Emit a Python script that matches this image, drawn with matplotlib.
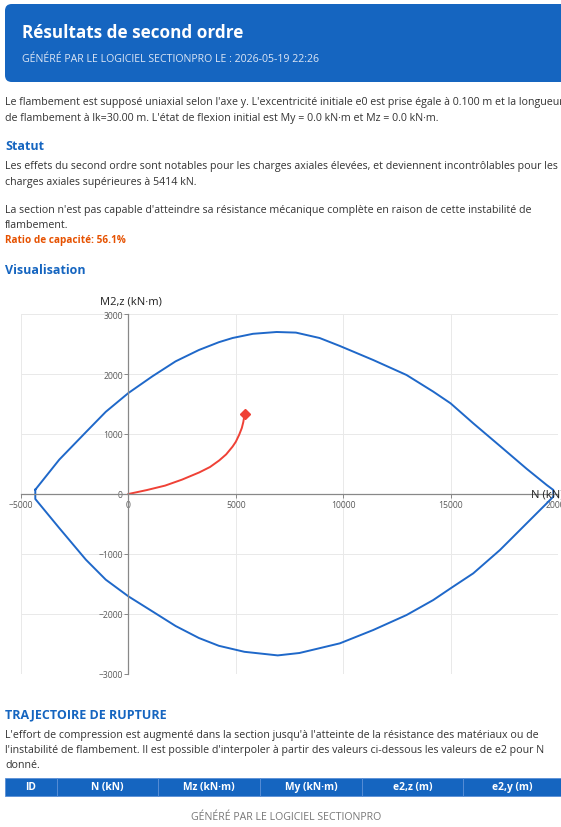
import matplotlib
matplotlib.use("Agg")
import matplotlib.pyplot as plt
from matplotlib.patches import FancyBboxPatch, Rectangle

plt.rcParams['font.family'] = ['Open Sans', 'Noto Sans', 'DejaVu Sans']

W, H = 561, 828
BLUE = '#1565c0'
TXT = '#333333'

# interaction diagram (N in kN, M2,z in kN.m)
n_env = [-4334, -3220, -1981, -1053, 0, 1115, 2198, 3282, 4211, 4850, 5800,
         6900, 7800, 8900, 9845, 11398, 12950, 14193, 15000, 16056, 17299,
         18541, 19473, 19784, 19784, 19473, 18541, 17299, 16056, 15000,
         14193, 12950, 11398, 9845, 8900, 7963, 6953, 5400, 4211, 3282,
         2198, 1115, 0, -1053, -1981, -3220, -4334, -4334]
m_env = [72, 572, 1030, 1370, 1683, 1961, 2211, 2400, 2530, 2600, 2670,
         2700, 2690, 2600, 2467, 2233, 1983, 1706, 1511, 1178, 800,
         420, 150, 67, -44, -156, -489, -933, -1322, -1572,
         -1767, -2017, -2267, -2489, -2570, -2650, -2690, -2630, -2530, -2400,
         -2200, -1956, -1706, -1428, -1094, -567, -83, 72]

# second order trajectory
n_traj = [0, 850, 1710, 2500, 3300, 3800, 4230, 4550, 4850, 5000, 5160,
          5280, 5350, 5414]
m_traj = [0, 65, 140, 240, 360, 450, 560, 660, 790, 870, 990,
          1100, 1200, 1340]

x_ticks = [-5000, 0, 5000, 10000, 15000, 20000]
y_ticks = [-3000, -2000, -1000, 0, 1000, 2000, 3000]

cols = ['ID', 'N (kN)', 'Mz (kN·m)', 'My (kN·m)', 'e2,z (m)', 'e2,y (m)']
col_edges = [5, 57, 158, 260, 362, 463, 565]

fig = plt.figure(figsize=(W / 100, H / 100), dpi=100)


def px(x, y):
    return x / W, 1 - y / H


def txt(x, y, s, **kw):
    kw.setdefault('color', TXT)
    kw.setdefault('fontsize', 7.65)
    kw.setdefault('va', 'center')
    fig.text(*px(x, y), s, **kw)


# header
hdr = FancyBboxPatch(px(5, 83), (575 - 5) / W, 78 / H,
                     boxstyle='round,pad=0,rounding_size=0.012',
                     transform=fig.transFigure, fc=BLUE, ec='none',
                     mutation_aspect=W / H)
fig.patches.append(hdr)
txt(22, 33, 'Résultats de second ordre', color='white', fontsize=12.3,
    fontweight='bold')
txt(22, 60, 'GÉNÉRÉ PAR LE LOGICIEL SECTIONPRO LE : 2026-05-19 22:26',
    color='#dce6f5', fontsize=7.6)

txt(5, 103, "Le flambement est supposé uniaxial selon l'axe y. L'excentricité "
    "initiale e0 est prise égale à 0.100 m et la longueur")
txt(5, 119, "de flambement à lk=30.00 m. L'état de flexion initial est "
    "My = 0.0 kN·m et Mz = 0.0 kN·m.")

txt(5, 147, 'Statut', color=BLUE, fontsize=9, fontweight='bold')
txt(5, 167, 'Les effets du second ordre sont notables pour les charges '
    'axiales élevées, et deviennent incontrôlables pour les')
txt(5, 183, 'charges axiales supérieures à 5414 kN.')
txt(5, 211, "La section n'est pas capable d'atteindre sa résistance "
    "mécanique complète en raison de cette instabilité de")
txt(5, 226, 'flambement.')
txt(5, 241, 'Ratio de capacité: 56.1%', color='#e65100', fontsize=7.2,
    fontweight='bold')

txt(5, 270, 'Visualisation', color=BLUE, fontsize=9, fontweight='bold')

# chart
ax = fig.add_axes([21 / W, (H - 675) / H, 537 / W, 360 / H])
ax.plot(n_env, m_env, color='#1f68c9', lw=1.4, solid_joinstyle='round')
ax.plot(n_traj, m_traj, color='#ef4136', lw=1.4, solid_joinstyle='round')
ax.plot(n_traj[-1], m_traj[-1], marker='D', color='#ef4136', ms=5)
ax.set_xlim(-5000, 20000)
ax.set_ylim(-3000, 3000)
ax.set_xticks(x_ticks)
ax.set_yticks(y_ticks)
ax.grid(True, color='#e9e9e9', lw=0.7)
ax.set_axisbelow(True)
for s in ['top', 'right']:
    ax.spines[s].set_visible(False)
ax.spines['left'].set_position(('data', 0))
ax.spines['bottom'].set_position(('data', 0))
for s in ['left', 'bottom']:
    ax.spines[s].set_color('#888888')
    ax.spines[s].set_linewidth(0.9)
ax.tick_params(labelsize=6.2, colors='#888888', labelcolor='#5a5a5a',
               length=3, width=0.7, pad=1)
for lab in ax.get_xticklabels() + ax.get_yticklabels():
    lab.set_clip_on(False)
ax.patch.set_alpha(0)

txt(131, 302, 'M2,z (kN·m)', color='#222222', fontsize=8, ha='center')
txt(531, 495, 'N (kN)', color='#222222', fontsize=8)

txt(5, 715, 'TRAJECTOIRE DE RUPTURE', color=BLUE, fontsize=9,
    fontweight='bold')
txt(5, 736, "L'effort de compression est augmenté dans la section jusqu'à "
    "l'atteinte de la résistance des matériaux ou de")
txt(5, 751, "l'instabilité de flambement. Il est possible d'interpoler à "
    "partir des valeurs ci-dessous les valeurs de e2 pour N")
txt(5, 766, 'donné.')

# table header row
for i, c in enumerate(cols):
    x0, x1 = col_edges[i], col_edges[i + 1]
    fig.patches.append(Rectangle(px(x0, 797), (x1 - x0) / W, 18 / H,
                                 transform=fig.transFigure, fc=BLUE,
                                 ec='#5a8fd6', lw=0.6))
    txt((x0 + min(x1, 561)) / 2, 788, c, color='white', fontsize=7.4,
        fontweight='bold', ha='center')

txt(286, 818, 'GÉNÉRÉ PAR LE LOGICIEL SECTIONPRO', color='#777777',
    fontsize=7.6, ha='center')

fig.savefig('out.png', dpi=100)
